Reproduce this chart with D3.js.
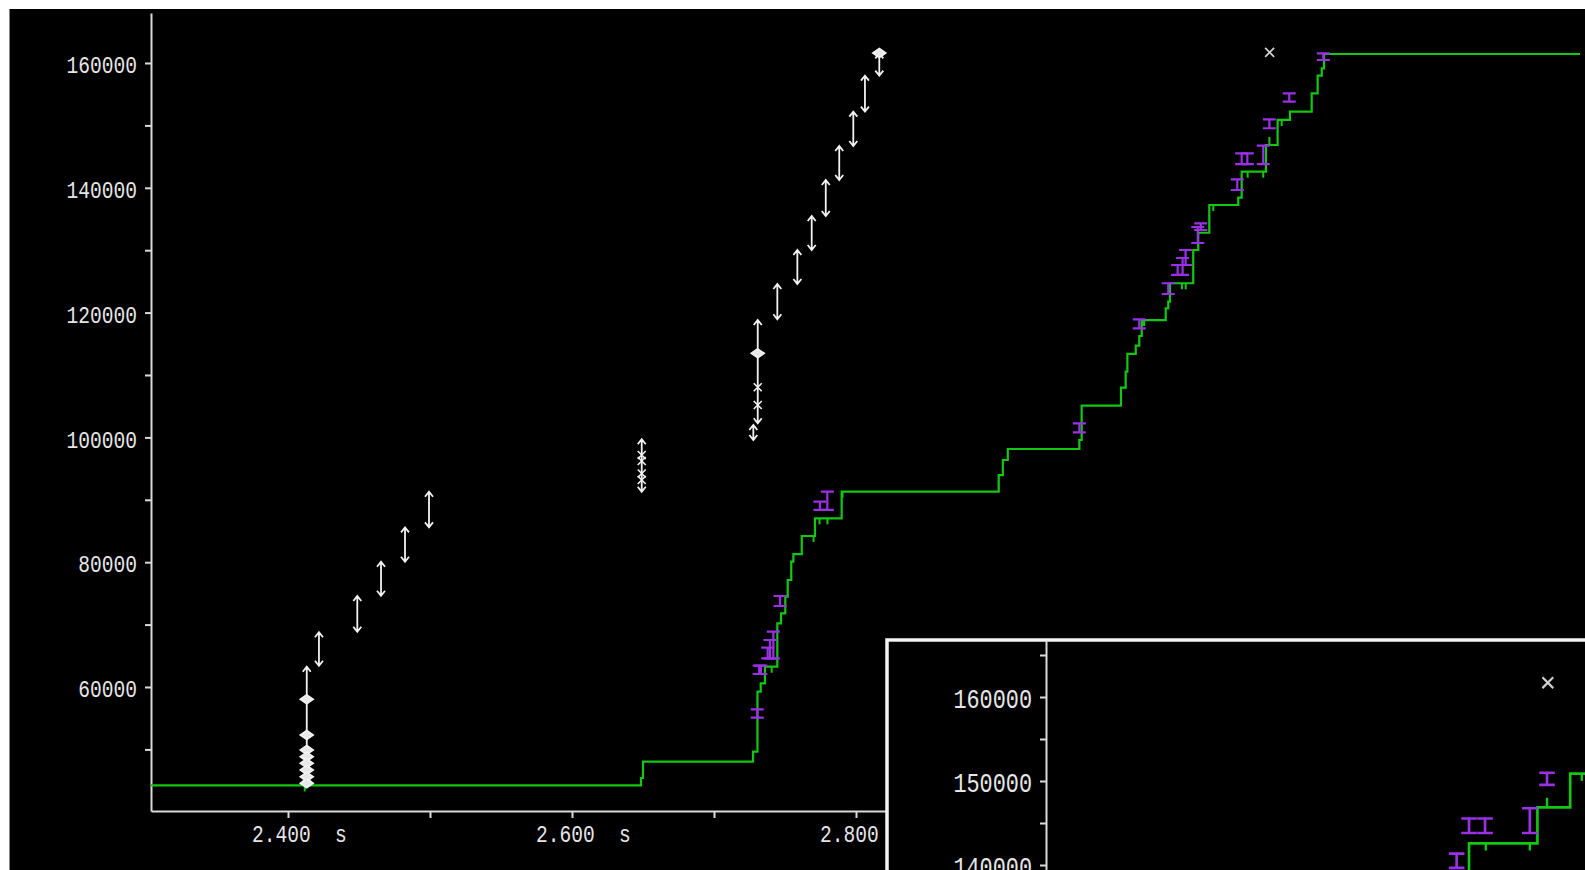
<!DOCTYPE html>
<html>
<head>
<meta charset="utf-8">
<script src="https://cdn.jsdelivr.net/npm/d3@7"></script>
<style>
  html, body { margin: 0; padding: 0; background: #fff; overflow: hidden; }
  svg { display: block; }
  text { font-family: "Liberation Mono", "DejaVu Sans Mono", monospace; fill: #e6e6e6; }
</style>
</head>
<body>
<svg id="chart" width="1585" height="870"></svg>
<script>
// ---- time / sequence trace data (seconds, sequence number) ----

// cumulative ACK: at time t the acknowledged sequence steps to v
const ackSteps = [
  [2.3035, 44230], [2.6486, 45420], [2.6500, 48030], [2.7275, 49630],
  [2.7306, 59260], [2.7329, 60590], [2.7359, 63250], [2.7446, 70210],
  [2.7472, 71810], [2.7502, 74470], [2.7519, 77150], [2.7544, 80080],
  [2.7559, 81310], [2.7618, 84200], [2.7711, 87030], [2.7899, 91300],
  [2.9005, 93970], [2.9034, 96380], [2.9069, 98140], [2.9573, 99580],
  [2.9589, 105080], [2.9866, 107970], [2.9899, 110530], [2.9911, 113370],
  [2.9970, 114700], [2.9995, 116250], [3.0012, 118810], [3.0181, 120690],
  [3.0199, 121750], [3.0211, 124700], [3.0375, 130030], [3.0410, 132800],
  [3.0488, 137240], [3.0692, 138410], [3.0716, 142580], [3.0887, 146860],
  [3.0969, 150870], [3.1056, 152200], [3.1209, 155140], [3.1251, 157970],
  [3.1280, 159150], [3.1296, 161440]
];
const ackEndTime = 3.3099;

// duplicate-ACK ticks hanging off the ACK line
const ackTicks = [
  [2.4118, 44230], [2.7406, 63250], [2.7701, 84200], [2.7743, 87030],
  [2.7799, 87030], [2.7905, 91300], [3.0020, 118810], [3.0030, 118810],
  [3.0295, 124700], [3.0322, 124700], [3.0516, 137240], [3.0758, 142580],
  [3.0868, 142580], [3.0998, 150870]
];
const ackTicksUp = [[3.0911, 146860]];

// transmitted data segments: [time, first seq, last seq]
const segments = [
  [2.4132, 44230, 63250], [2.4218, 63410, 68770], [2.4488, 68860, 74580],
  [2.4655, 74630, 80080], [2.4824, 80080, 85590], [2.4993, 85590, 91300],
  [2.6491, 91300, 99700], [2.7277, 99580, 101990], [2.7308, 102260, 118810],
  [2.7446, 118930, 124580], [2.7587, 124580, 130030], [2.7688, 130030, 135480],
  [2.7787, 135480, 141250], [2.7882, 141250, 146700], [2.7981, 146700, 152200],
  [2.8063, 152200, 157970], [2.8164, 157970, 161550]
];

// segment boundary markers
const segmentDiamonds = [
  [2.4132, 58030], [2.4132, 52310], [2.4132, 49900], [2.4132, 48830],
  [2.4132, 47770], [2.4132, 46700], [2.4132, 45630], [2.4132, 44570],
  [2.7308, 113480], [2.8164, 161600]
];
const segmentCrosses = [
  [2.6491, 97180], [2.6491, 96220], [2.6491, 94220], [2.6491, 93170],
  [2.7308, 108030], [2.7308, 105190]
];
const outlierMarks = [[3.0913, 161700]];

// SACK blocks: [time, left edge, right edge]
const sackBlocks = [
  [2.7305, 55080, 56430], [2.7318, 62080, 63410], [2.7330, 62080, 63410],
  [2.7378, 64600, 66300], [2.7394, 64600, 67530], [2.7418, 64600, 68860],
  [2.7465, 72980, 74580], [2.7746, 88370, 89700], [2.7798, 88370, 91300],
  [2.9573, 100820, 102260], [2.9995, 117480, 118930], [3.0199, 122980, 124700],
  [3.0265, 126030, 127630], [3.0300, 126030, 128750], [3.0321, 127630, 130030],
  [3.0407, 131150, 133720], [3.0428, 133240, 134310], [3.0685, 139650, 141360],
  [3.0716, 143810, 145530], [3.0756, 143810, 145530], [3.0868, 143810, 146750],
  [3.0911, 149540, 150980], [3.1051, 153800, 155140], [3.1291, 160480, 161550]
];

// axis ticks
const yTickValues = [60000, 80000, 100000, 120000, 140000, 160000];
const yMinorValues = [50000, 70000, 90000, 110000, 130000, 150000];
const xTickValues = [2.4, 2.5, 2.6, 2.7, 2.8, 2.9, 3.0, 3.1, 3.2, 3.3];
const xLabelValues = [2.4, 2.6, 2.8, 3.0, 3.2];
const xUnit = "s";
const insetYTickValues = [140000, 150000, 160000];
const insetYMinorValues = [145000, 155000, 165000];

// ---- drawing ----
const W = 1585, H = 870;
const GREEN = "#12c812", PURPLE = "#9b30e6", WHITE = "#f2f2f2", AXIS = "#dadada";
const CHAR_W = 11.75;

const svg = d3.select("#chart");

// window frame
svg.append("rect").attr("x", 10).attr("y", 9).attr("width", W - 10).attr("height", H - 9).attr("fill", "#000");
svg.append("line").attr("x1", 9.5).attr("x2", 9.5).attr("y1", 9).attr("y2", H)
  .attr("stroke", "#8a8278").attr("stroke-width", 1);

// main plot scales
const x = d3.scaleLinear().domain([2.30352, 3.31338]).range([151, 1585]);
const y = d3.scaleLinear().domain([40128, 168013]).range([811, 13]);

// inset (magnified) scales
const xi = d3.scaleLinear().domain([2.9658, 3.1006]).range([1046, 1585]);
const yi = d3.scaleLinear().domain([139405, 166786]).range([870, 640]);

function styleAxis(g, fontSize, charW) {
  g.selectAll(".domain").attr("stroke", AXIS).attr("stroke-width", 2);
  g.selectAll(".tick line").attr("stroke", AXIS).attr("stroke-width", 2);
  g.selectAll(".tick text")
    .attr("fill", "#e6e6e6")
    .style("font-size", fontSize + "px")
    .attr("dy", null)
    .attr("y", fontSize * 0.4)
    .attr("lengthAdjust", "spacingAndGlyphs")
    .attr("textLength", function () { return this.textContent.length * charW; });
}

function drawTrace(g, sx, sy, k) {
  // ACK line
  const pts = ackSteps.concat([[ackEndTime, ackSteps[ackSteps.length - 1][1]]]);
  g.append("path").datum(pts)
    .attr("d", d3.line().x(d => sx(d[0])).y(d => sy(d[1])).curve(d3.curveStepAfter))
    .attr("fill", "none").attr("stroke", GREEN).attr("stroke-width", 2.2 * k);

  g.selectAll(null).data(ackTicks).join("line")
    .attr("x1", d => sx(d[0])).attr("x2", d => sx(d[0]))
    .attr("y1", d => sy(d[1])).attr("y2", d => sy(d[1]) + 6 * k)
    .attr("stroke", GREEN).attr("stroke-width", 2 * k);
  g.selectAll(null).data(ackTicksUp).join("line")
    .attr("x1", d => sx(d[0])).attr("x2", d => sx(d[0]))
    .attr("y1", d => sy(d[1])).attr("y2", d => sy(d[1]) - 8 * k)
    .attr("stroke", GREEN).attr("stroke-width", 2 * k);

  // SACK blocks
  const sw = 6.5 * k;
  g.selectAll(null).data(sackBlocks).join("path")
    .attr("d", d => {
      const cx = sx(d[0]), y0 = sy(d[1]), y1 = sy(d[2]);
      return `M${cx},${y0}V${y1}M${cx - sw},${y0}H${cx + sw}M${cx - sw},${y1}H${cx + sw}`;
    })
    .attr("fill", "none").attr("stroke", PURPLE).attr("stroke-width", 2.2 * k);

  // data segments with arrowheads at both ends
  const ah = 4 * k, av = 5 * k;
  g.selectAll(null).data(segments).join("path")
    .attr("d", d => {
      const cx = sx(d[0]), yb = sy(d[1]), yt = sy(d[2]);
      return `M${cx},${yb}V${yt}` +
        `M${cx - ah},${yt + av}L${cx},${yt}L${cx + ah},${yt + av}` +
        `M${cx - ah},${yb - av}L${cx},${yb}L${cx + ah},${yb - av}`;
    })
    .attr("fill", "none").attr("stroke", WHITE).attr("stroke-width", 1.8 * k);

  const dw = 6.5 * k, dh = 4.5 * k;
  g.selectAll(null).data(segmentDiamonds).join("path")
    .attr("d", d => {
      const cx = sx(d[0]), cy = sy(d[1]);
      return `M${cx},${cy - dh}L${cx + dw},${cy}L${cx},${cy + dh}L${cx - dw},${cy}Z`;
    })
    .attr("fill", "#e8e8e8").attr("stroke", WHITE).attr("stroke-width", 1.6 * k);

  const cs = 4 * k;
  g.selectAll(null).data(segmentCrosses).join("path")
    .attr("d", d => {
      const cx = sx(d[0]), cy = sy(d[1]);
      return `M${cx - cs},${cy - cs}L${cx + cs},${cy + cs}M${cx - cs},${cy + cs}L${cx + cs},${cy - cs}`;
    })
    .attr("fill", "none").attr("stroke", WHITE).attr("stroke-width", 1.6 * k);

  const os = 4.5 * k;
  g.selectAll(null).data(outlierMarks).join("path")
    .attr("d", d => {
      const cx = sx(d[0]), cy = sy(d[1]);
      return `M${cx - os},${cy - os}L${cx + os},${cy + os}M${cx - os},${cy + os}L${cx + os},${cy - os}`;
    })
    .attr("fill", "none").attr("stroke", "#cfcfcf").attr("stroke-width", 1.8 * k);
}

// ---------- main plot ----------
const defs = svg.append("defs");
defs.append("clipPath").attr("id", "main-clip")
  .append("rect").attr("x", 151).attr("y", 13).attr("width", W - 151).attr("height", 798);
defs.append("clipPath").attr("id", "inset-clip")
  .append("rect").attr("x", 1047).attr("y", 641).attr("width", W - 1047).attr("height", H - 641);

const yAxisG = svg.append("g").attr("transform", "translate(151,0)")
  .call(d3.axisLeft(y).tickValues(yTickValues).tickFormat(d3.format("d"))
    .tickSize(6).tickSizeOuter(0).tickPadding(8));
styleAxis(yAxisG, 24, CHAR_W);
svg.append("g").attr("transform", "translate(151,0)")
  .call(d3.axisLeft(y).tickValues(yMinorValues).tickFormat("").tickSize(6).tickSizeOuter(0))
  .call(g => g.select(".domain").remove())
  .selectAll(".tick line").attr("stroke", AXIS).attr("stroke-width", 2);

const xAxisG = svg.append("g").attr("transform", "translate(0,811)")
  .call(d3.axisBottom(x).tickValues(xTickValues).tickFormat("").tickSize(7).tickSizeOuter(0));
xAxisG.selectAll(".domain").attr("stroke", AXIS).attr("stroke-width", 2);
xAxisG.selectAll(".tick line").attr("stroke", AXIS).attr("stroke-width", 2);

const xLab = svg.append("g");
xLab.selectAll(null).data(xLabelValues).join("text")
  .attr("x", d => x(d) - 36).attr("y", 842)
  .style("font-size", "24px")
  .attr("lengthAdjust", "spacingAndGlyphs")
  .attr("textLength", 5 * CHAR_W)
  .text(d => d3.format(".3f")(d));
xLab.selectAll(null).data(xLabelValues).join("text")
  .attr("x", d => x(d) + 47).attr("y", 842)
  .style("font-size", "24px")
  .attr("lengthAdjust", "spacingAndGlyphs")
  .attr("textLength", CHAR_W)
  .text(xUnit);

const mainG = svg.append("g").attr("clip-path", "url(#main-clip)");
drawTrace(mainG, x, y, 1);

// ---------- inset ----------
svg.append("rect").attr("x", 887).attr("y", 640).attr("width", 800).attr("height", 400)
  .attr("fill", "#000").attr("stroke", "#f4f4f4").attr("stroke-width", 3.5);

const insetAxis = svg.append("g").attr("transform", "translate(1046,0)")
  .call(d3.axisLeft(yi).tickValues(insetYTickValues).tickFormat(d3.format("d"))
    .tickSize(6).tickSizeOuter(0).tickPadding(8));
styleAxis(insetAxis, 27, 13.1);
svg.append("g").attr("transform", "translate(1046,0)")
  .call(d3.axisLeft(yi).tickValues(insetYMinorValues).tickFormat("").tickSize(6).tickSizeOuter(0))
  .call(g => g.select(".domain").remove())
  .selectAll(".tick line").attr("stroke", AXIS).attr("stroke-width", 2);

const insetG = svg.append("g").attr("clip-path", "url(#inset-clip)");
drawTrace(insetG, xi, yi, 1.2);
</script>
</body>
</html>
